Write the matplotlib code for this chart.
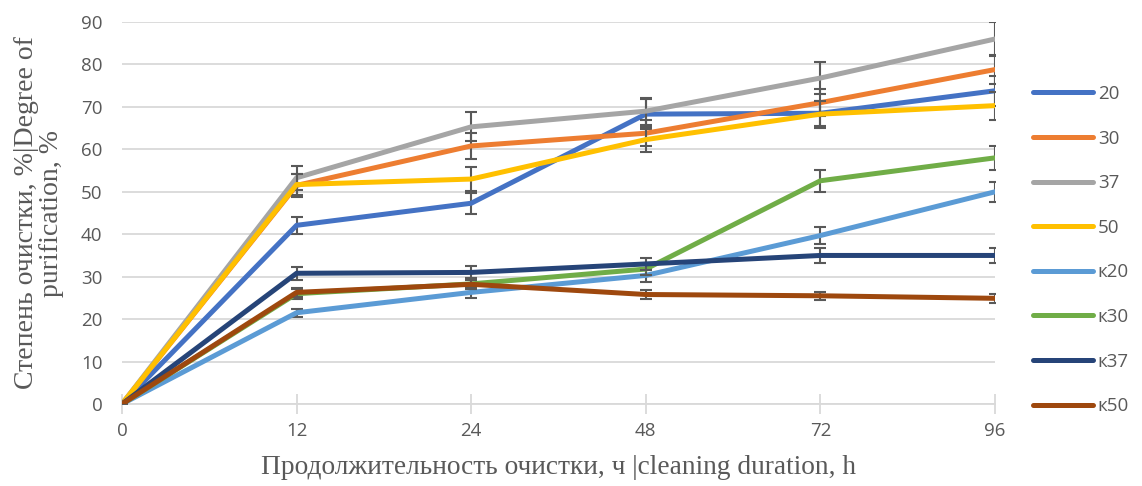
import matplotlib.pyplot as plt
from matplotlib.lines import Line2D
import numpy as np

# purification degree (%) vs cleaning duration, categorical x axis
hours = ['0', '12', '24', '48', '72', '96']

labels = ['20', '30', '37', '50', 'к20', 'к30', 'к37', 'к50']
colors = ['#4472C4', '#ED7D31', '#A5A5A5', '#FFC000',
          '#5B9BD5', '#70AD47', '#264478', '#9E480E']

s20 = [0, 42.1, 47.3, 68.3, 68.5, 73.8]
s30 = [0, 51.5, 60.8, 63.8, 71.0, 78.8]
s37 = [0, 53.3, 65.3, 69.0, 76.8, 86.0]
s50 = [0, 51.7, 53.0, 62.3, 68.3, 70.3]
k20 = [0, 21.5, 26.3, 30.3, 39.7, 50.0]
k30 = [0, 26.0, 28.3, 31.8, 52.6, 58.0]
k37 = [0, 30.8, 31.0, 33.0, 35.0, 35.0]
k50 = [0, 26.3, 28.2, 25.8, 25.5, 24.9]

e20 = [0, 2.0, 2.5, 3.5, 3.0, 3.5]
e30 = [0, 2.7, 3.0, 3.0, 3.2, 3.5]
e37 = [0, 2.8, 3.4, 3.2, 3.8, 4.0]
e50 = [0, 2.5, 2.8, 3.0, 3.2, 3.3]
ek20 = [0, 1.0, 1.3, 1.5, 1.9, 2.4]
ek30 = [0, 1.2, 1.3, 1.5, 2.6, 2.8]
ek37 = [0, 1.5, 1.5, 1.5, 1.8, 1.8]
ek50 = [0, 1.0, 1.0, 1.0, 1.0, 1.0]

series = [s20, s30, s37, s50, k20, k30, k37, k50]
errors = [e20, e30, e37, e50, ek20, ek30, ek37, ek50]

fig = plt.figure(figsize=(11.42, 4.86), dpi=100)
ax = fig.add_axes([0.1068, 0.1687, 0.7645, 0.786])

x = np.arange(len(hours))
handles = []
for i, (vals, err, lab, col) in enumerate(zip(series, errors, labels, colors)):
    ax.errorbar(x, vals, yerr=err, color=col, lw=3.6,
                ecolor='#595959', elinewidth=1.5, capsize=4, capthick=1.5,
                solid_capstyle='round', zorder=3 + i)
    handles.append(Line2D([], [], color=col, lw=3.6,
                          solid_capstyle='round', label=lab))

ax.set_xlim(0, len(hours) - 1)
ax.set_ylim(0, 90)
ax.set_yticks(np.arange(0, 91, 10))
ax.set_xticks(x)
ax.set_xticklabels(hours)
ax.grid(axis='y', color='#D9D9D9', lw=1.3)
ax.set_axisbelow(True)
for sp in ['top', 'right', 'left']:
    ax.spines[sp].set_visible(False)
ax.spines['bottom'].set_color('#D9D9D9')
ax.spines['bottom'].set_linewidth(1.3)
ax.spines['bottom'].set_zorder(1)
ax.tick_params(axis='x', direction='inout', length=14, width=1.3,
               color='#D9D9D9', labelsize=13.5, labelcolor='#595959', pad=6)
ax.tick_params(axis='y', length=0, labelsize=13.5, labelcolor='#595959', pad=14)
for t in ax.get_xticklabels() + ax.get_yticklabels():
    t.set_family('Open Sans')

ax.set_ylabel('Степень очистки, %|Degree of\npurification, %',
              family='Liberation Serif', fontsize=20, color='#595959',
              linespacing=1.0)
ax.yaxis.set_label_coords(-0.066, 0.5)
ax.set_xlabel('Продолжительность очистки, ч |cleaning duration, h',
              family='Liberation Serif', fontsize=19.7, color='#595959',
              labelpad=11)

leg = ax.legend(handles=handles, loc='upper left',
                bbox_to_anchor=(1.035, 0.855), frameon=False,
                prop={'family': 'Open Sans', 'size': 13.5}, labelspacing=1.42,
                handlelength=3.2, handletextpad=0.25, borderaxespad=0)
for t in leg.get_texts():
    t.set_color('#595959')

fig.savefig('out.png', dpi=100)
